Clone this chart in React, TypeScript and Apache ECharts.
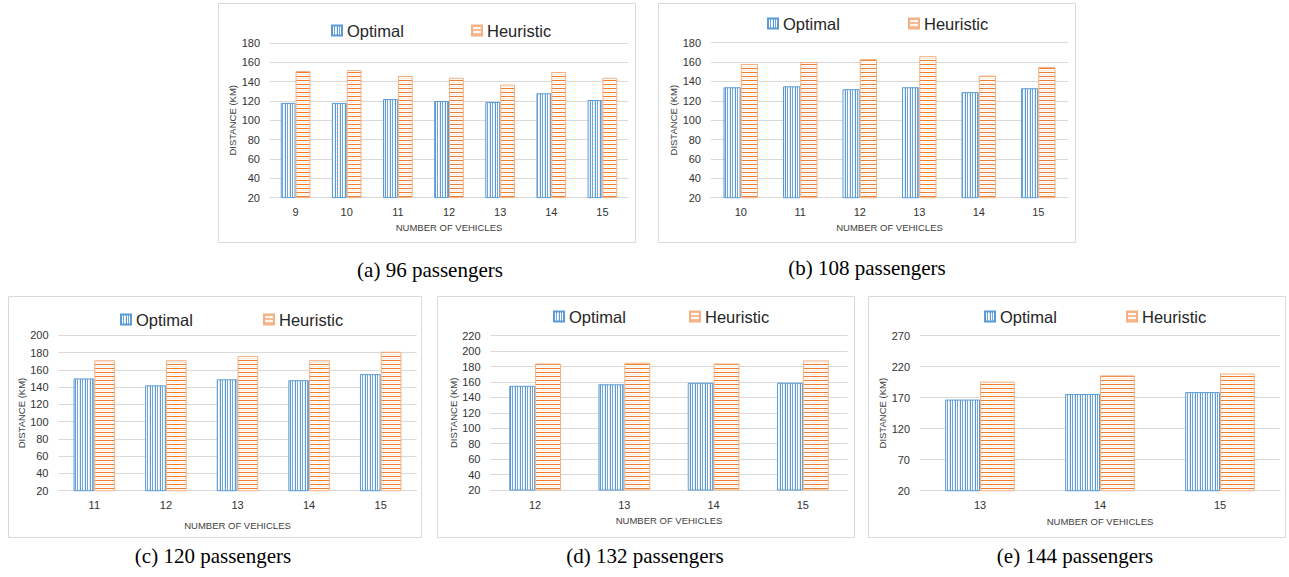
import React, { useEffect, useRef } from "react";
import * as echarts from "echarts";

// ---- data ----
const categoriesA = ["9", "10", "11", "12", "13", "14", "15"];
const optimalA = [118, 118, 122, 120, 119, 128, 121];
const heuristicA = [151, 152, 146, 144, 137, 150, 144];

const categoriesB = ["10", "11", "12", "13", "14", "15"];
const optimalB = [134, 135, 132, 134, 129, 133];
const heuristicB = [158, 160, 163, 166, 146, 155];

const categoriesC = ["11", "12", "13", "14", "15"];
const optimalC = [150, 142, 149, 148, 155];
const heuristicC = [171, 171, 176, 171, 181];

const categoriesD = ["12", "13", "14", "15"];
const optimalD = [155, 157, 159, 159];
const heuristicD = [184, 185, 184, 188];

const categoriesE = ["13", "14", "15"];
const optimalE = [167, 176, 179];
const heuristicE = [196, 206, 209];

const ticksE = [20, 70, 120, 170, 220, 270];

const captions = ["(a) 96 passengers", "(b) 108 passengers", "(c) 120 passengers", "(d) 132 passengers", "(e) 144 passengers"];
const seriesNames = ["Optimal", "Heuristic"];
const xAxisTitle = "NUMBER OF VEHICLES";
const yAxisTitle = "DISTANCE (KM)";

// ---- layout (styles / positions) ----
const panels = [
  { cats: categoriesA, opt: optimalA, heu: heuristicA, min: 20, max: 180, interval: 20, custom: null as number[] | null,
    grid: { left: 270, top: 43, width: 358, height: 154.6 }, box: [218, 3, 417, 239],
    legendTop: 22, legendLeft: [331, 471], yGap: 31, xGap: 25, caption: [430, 270] },
  { cats: categoriesB, opt: optimalB, heu: heuristicB, min: 20, max: 180, interval: 20, custom: null,
    grid: { left: 711, top: 42.7, width: 357, height: 155 }, box: [658, 3, 417, 239],
    legendTop: 15, legendLeft: [767, 908], yGap: 31, xGap: 25, caption: [867, 268] },
  { cats: categoriesC, opt: optimalC, heu: heuristicC, min: 20, max: 200, interval: 20, custom: null,
    grid: { left: 58.5, top: 335.3, width: 358, height: 155.4 }, box: [8, 296, 413, 241],
    legendTop: 311, legendLeft: [120, 263], yGap: 31, xGap: 30, caption: [213, 556] },
  { cats: categoriesD, opt: optimalD, heu: heuristicD, min: 20, max: 220, interval: 20, custom: null,
    grid: { left: 490.5, top: 335.7, width: 357, height: 154.3 }, box: [437, 296, 417, 241],
    legendTop: 308, legendLeft: [553, 689], yGap: 32, xGap: 25, caption: [645, 556] },
  { cats: categoriesE, opt: optimalE, heu: heuristicE, min: 20, max: 270, interval: 0, custom: ticksE,
    grid: { left: 920, top: 335.7, width: 360, height: 155 }, box: [868, 296, 417, 241],
    legendTop: 308, legendLeft: [984, 1126], yGap: 33, xGap: 26, caption: [1075, 556] },
];

function makePattern(kind: "v" | "h") {
  const c = document.createElement("canvas");
  if (kind === "v") {
    const cols = ["#5B9BD5", "#ffffff", "#6fa7da", "#ffffff", "#e3eef8"];
    c.width = cols.length;
    c.height = 2;
    const ctx = c.getContext("2d")!;
    cols.forEach((col, i) => {
      ctx.fillStyle = col;
      ctx.fillRect(i, 0, 1, 2);
    });
  } else {
    const rows = ["#ED7D31", "#ffffff", "#fdeee3", "#ffffff"];
    c.width = 2;
    c.height = rows.length;
    const ctx = c.getContext("2d")!;
    rows.forEach((col, i) => {
      ctx.fillStyle = col;
      ctx.fillRect(0, i, 2, 1);
    });
  }
  return c;
}

export default function App() {
  const ref = useRef<HTMLDivElement>(null);
  useEffect(() => {
    document.body.style.margin = "0";
    const chart = echarts.init(ref.current!, null, { renderer: "svg" });
    const vPat = makePattern("v");
    const hPat = makePattern("h");
    const optStyle = {
      color: { image: vPat, repeat: "repeat" },
      borderColor: "#5B9BD5",
      borderWidth: 1,
    };
    const heuStyle = {
      color: { image: hPat, repeat: "repeat" },
      borderColor: "#F4B183",
      borderWidth: 1,
    };
    const font = "Liberation Sans";

    const grids: any[] = [];
    const xAxes: any[] = [];
    const yAxes: any[] = [];
    const series: any[] = [];
    const legends: any[] = [];
    const graphics: any[] = [];

    panels.forEach((p, i) => {
      grids.push({ ...p.grid, containLabel: false });
      xAxes.push({
        type: "category",
        gridIndex: i,
        data: p.cats,
        axisTick: { show: false },
        axisLine: { lineStyle: { color: "#d9d9d9", width: 1 } },
        axisLabel: { color: "#333333", fontSize: 11, fontFamily: font, margin: 9 },
        name: xAxisTitle,
        nameLocation: "middle",
        nameGap: p.xGap,
        nameTextStyle: { color: "#404040", fontSize: 9.5, fontFamily: font },
      });
      const y: any = {
        type: "value",
        gridIndex: i,
        min: p.min,
        max: p.max,
        axisLine: { show: false },
        splitLine: { lineStyle: { color: "#d9d9d9", width: 1 } },
        axisLabel: { color: "#333333", fontSize: 11, fontFamily: font, margin: 10 },
        name: yAxisTitle,
        nameLocation: "middle",
        nameRotate: 90,
        nameGap: p.yGap,
        nameTextStyle: { color: "#404040", fontSize: 9.5, fontFamily: font },
      };
      if (p.custom) {
        y.axisLabel.customValues = p.custom;
        y.axisTick = { show: false, customValues: p.custom };
      } else {
        y.interval = p.interval;
        y.axisTick = { show: false };
      }
      yAxes.push(y);
      series.push({
        type: "bar",
        name: seriesNames[0],
        xAxisIndex: i,
        yAxisIndex: i,
        data: p.opt,
        barGap: "0%",
        barCategoryGap: "42%",
        clip: true,
        itemStyle: optStyle,
      });
      series.push({
        type: "bar",
        name: seriesNames[1],
        xAxisIndex: i,
        yAxisIndex: i,
        data: p.heu,
        barGap: "0%",
        barCategoryGap: "42%",
        clip: true,
        itemStyle: heuStyle,
      });
      seriesNames.forEach((n, k) => {
        legends.push({
          data: [n],
          left: p.legendLeft[k],
          top: p.legendTop,
          icon: "rect",
          itemWidth: 10,
          itemHeight: 10,
          itemGap: 5,
          selectedMode: false,
          textStyle: { color: "#262626", fontSize: 16.5, fontFamily: font, padding: [0, 0, 0, 0] },
          padding: 0,
        });
      });
      graphics.push({
        type: "rect",
        silent: true,
        z: -10,
        shape: { x: p.box[0] + 0.5, y: p.box[1] + 0.5, width: p.box[2], height: p.box[3] },
        style: { fill: "#ffffff", stroke: "#d9d9d9", lineWidth: 1 },
      });
      graphics.push({
        type: "text",
        silent: true,
        x: p.caption[0],
        y: p.caption[1],
        style: {
          text: captions[i],
          fill: "#000000",
          font: "21px 'Liberation Serif'",
          textAlign: "center",
          textVerticalAlign: "middle",
        },
      });
    });

    chart.setOption({
      animation: false,
      backgroundColor: "#ffffff",
      textStyle: { fontFamily: font },
      grid: grids,
      xAxis: xAxes,
      yAxis: yAxes,
      legend: legends,
      series,
      graphic: graphics,
    });
    return () => chart.dispose();
  }, []);
  return <div ref={ref} style={{ width: 1289, height: 577 }} />;
}
